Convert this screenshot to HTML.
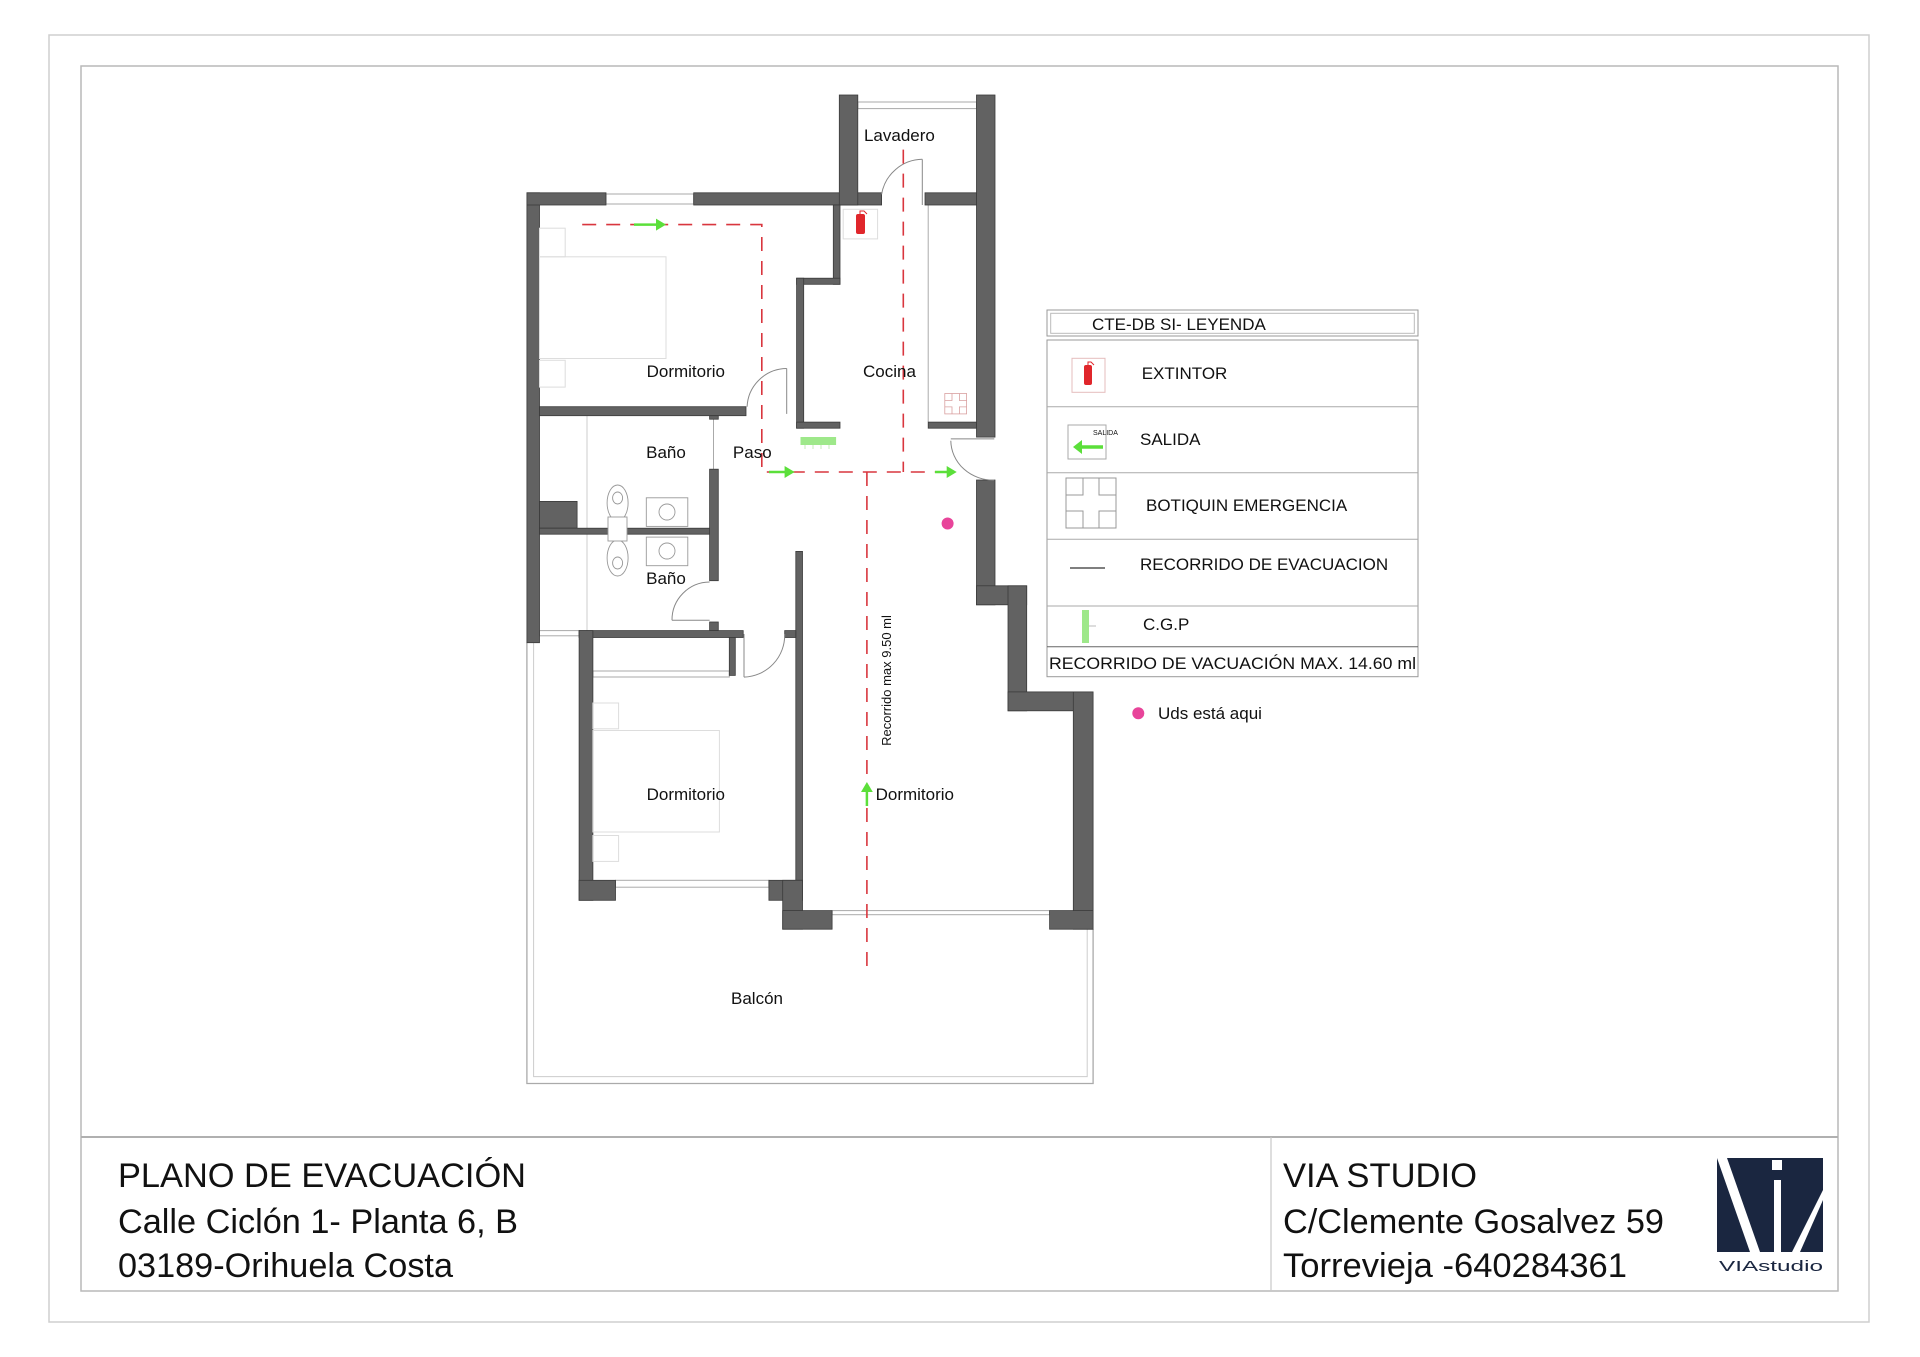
<!DOCTYPE html>
<html><head><meta charset="utf-8"><style>
html,body{margin:0;padding:0;background:#fff;}
svg{display:block;}
text{font-family:"Liberation Sans",Arial,sans-serif;fill:#111;}
</style></head><body>
<svg width="1920" height="1357" viewBox="0 0 1920 1357" xmlns="http://www.w3.org/2000/svg">
<rect width="1920" height="1357" fill="#fff"/>
<!-- frames -->
<rect x="49" y="35" width="1820" height="1287" fill="none" stroke="#cfcfcf" stroke-width="1.5"/>
<rect x="81" y="66" width="1757" height="1225" fill="none" stroke="#b9b9b9" stroke-width="1.5"/>
<line x1="81" y1="1137" x2="1838" y2="1137" stroke="#b0b0b0" stroke-width="2"/>
<line x1="1271" y1="1137" x2="1271" y2="1291" stroke="#c8c8c8" stroke-width="1.2"/>

<!-- balcony -->
<path d="M526.9 642.7 V1083.5 H1093.1 V929" fill="none" stroke="#aaa" stroke-width="1.3"/>
<path d="M533.6 642.7 V1076.6 H1087.2 V929" fill="none" stroke="#ccc" stroke-width="1"/>

<!-- windows / thin lines -->
<g stroke="#aaa" stroke-width="1" fill="none">
<rect x="606" y="194" width="87.7" height="10"/>
<rect x="857.8" y="102" width="118.7" height="6.6"/>
<rect x="539.5" y="630.6" width="39.6" height="5.2"/>
<rect x="592.9" y="671" width="136.4" height="6"/>
<rect x="615.5" y="880.3" width="153.4" height="6.9"/>
<rect x="832.1" y="910.6" width="217.5" height="4.1"/>
<line x1="928.2" y1="205" x2="928.2" y2="422"/>
<line x1="587" y1="415.7" x2="587" y2="642" stroke="#ccc"/>
<line x1="713.5" y1="419" x2="713.5" y2="469"/>
</g>

<!-- walls -->
<g fill="#626262" stroke="#3a3a3a" stroke-width="0.8">
<rect x="526.9" y="192.8" width="12.6" height="449.9"/>
<rect x="526.9" y="192.8" width="79.1" height="12.2"/>
<rect x="693.7" y="192.8" width="187.9" height="12.2"/>
<rect x="839.3" y="95" width="18.5" height="110"/>
<rect x="976.5" y="95" width="18.5" height="342.1"/>
<rect x="925" y="192.8" width="51.5" height="12.2"/>
<rect x="833.3" y="205" width="6.7" height="79.3"/>
<rect x="796.6" y="278.2" width="43.4" height="6.1"/>
<rect x="796.6" y="278.2" width="7.1" height="150"/>
<rect x="796.6" y="422.1" width="43.4" height="6.1"/>
<rect x="928.2" y="422.1" width="48.3" height="6.1"/>
<rect x="539.5" y="406.7" width="206.5" height="9"/>
<rect x="709.6" y="415.7" width="8.7" height="3.5"/>
<rect x="539.5" y="501.4" width="37.6" height="26.8"/>
<rect x="539.5" y="528.2" width="174" height="6"/>
<rect x="709.6" y="469.2" width="8.7" height="111.5"/>
<rect x="976.5" y="480" width="18.5" height="124.8"/>
<rect x="976.5" y="585.8" width="50.2" height="19"/>
<rect x="1008" y="585.8" width="18.7" height="125"/>
<rect x="1008" y="691.9" width="85.1" height="18.9"/>
<rect x="1073.3" y="691.9" width="19.8" height="237.3"/>
<rect x="1049.6" y="910.6" width="43.5" height="18.6"/>
<rect x="795.8" y="551.4" width="6.7" height="330.6"/>
<rect x="784.7" y="630.6" width="11.1" height="6.9"/>
<rect x="709.6" y="622" width="8.7" height="8.6"/>
<rect x="579.1" y="630.6" width="164.1" height="6.9"/>
<rect x="579.1" y="630.6" width="13.8" height="269.7"/>
<rect x="579.1" y="880.3" width="36.4" height="20"/>
<rect x="729.3" y="637.5" width="6" height="37.9"/>
<rect x="768.9" y="880.3" width="33.6" height="20"/>
<rect x="782.7" y="880.3" width="19.8" height="48.9"/>
<rect x="782.7" y="910.6" width="49.4" height="18.6"/>
</g>

<!-- doors -->
<g stroke="#888" stroke-width="1" fill="none">
<line x1="922.3" y1="159.3" x2="922.3" y2="205"/>
<path d="M881.6 194.3 A42 42 0 0 1 922.3 159.3"/>
<line x1="786.7" y1="368.5" x2="786.7" y2="413.9"/>
<path d="M747.1 406.7 A40 40 0 0 1 786.7 368.5"/>
<line x1="950.8" y1="438.9" x2="994.3" y2="438.9"/>
<path d="M950.8 440.7 A42 40 0 0 0 994.3 480"/>
<line x1="672" y1="620.3" x2="709.6" y2="620.3"/>
<path d="M672 620.3 A38 38 0 0 1 709.6 582"/>
<line x1="744" y1="634" x2="744" y2="677.1"/>
<path d="M744 677.1 A42 42 0 0 0 784.7 634"/>
</g>

<!-- furniture -->
<g stroke="#ddd" stroke-width="1" fill="none">
<rect x="539.5" y="228.2" width="25.7" height="28.6"/>
<rect x="539.5" y="256.8" width="126.5" height="101.7"/>
<rect x="539.5" y="360.3" width="25.7" height="26.8"/>
<rect x="592.9" y="703" width="25.7" height="25.8"/>
<rect x="592.9" y="730.5" width="126.5" height="101.5"/>
<rect x="592.9" y="835.5" width="25.7" height="25.9"/>
</g>
<g stroke="#999" stroke-width="0.9" fill="none">
<rect x="646.3" y="497.8" width="41.5" height="28.6"/>
<circle cx="667" cy="512" r="8"/>
<rect x="646.3" y="537.1" width="41.5" height="28.6"/>
<circle cx="667" cy="551" r="8"/>
<ellipse cx="617.6" cy="503" rx="10.5" ry="18" fill="#fff"/>
<ellipse cx="617.6" cy="558" rx="10.5" ry="18" fill="#fff"/>
<ellipse cx="617.6" cy="498" rx="5" ry="6"/>
<ellipse cx="617.6" cy="563" rx="5" ry="6"/>
<rect x="608" y="517" width="19" height="24" fill="#fff"/>
</g>

<!-- evac route -->
<g stroke="#d9363e" stroke-width="1.6" stroke-dasharray="14,10" fill="none">
<path d="M582.2 224.6 H761.8 V472 H954.7"/>
<line x1="903.3" y1="149.6" x2="903.3" y2="472"/>
<line x1="866.9" y1="472" x2="866.9" y2="971.6"/>
</g>
<g fill="#5bdf3a" stroke="#5bdf3a" stroke-width="2.5">
<line x1="634" y1="224.6" x2="658" y2="224.6"/><polygon points="666,224.6 656,218.6 656,230.6" stroke="none"/>
<line x1="769" y1="472" x2="786" y2="472"/><polygon points="794.6,472 784.6,466 784.6,478" stroke="none"/>
<line x1="935" y1="472" x2="948" y2="472"/><polygon points="956.7,472 946.7,466 946.7,478" stroke="none"/>
<line x1="866.9" y1="806" x2="866.9" y2="790"/><polygon points="866.9,782 861,792 872.8,792" stroke="none"/>
</g>
<rect x="800.5" y="437" width="35.6" height="8" fill="#9ee88a"/>
<g stroke="#b8e8a8" stroke-width="0.8"><line x1="805" y1="445" x2="805" y2="449"/><line x1="813" y1="445" x2="813" y2="449"/><line x1="821" y1="445" x2="821" y2="449"/><line x1="829" y1="445" x2="829" y2="449"/></g>

<!-- extinguisher in plan -->
<rect x="843.2" y="209.3" width="34.4" height="29.6" fill="#fff" stroke="#ddd"/>
<rect x="856" y="214" width="9" height="20" rx="2" fill="#e0262b"/>
<path d="M860 214 v-3 h4 l3 3" stroke="#e0262b" fill="none" stroke-width="1"/>
<!-- botiquin in plan -->
<g stroke="#d9a0a0" stroke-width="0.8" fill="none">
<rect x="944.8" y="393.5" width="21.8" height="20.4"/>
<path d="M952 393.5 v7 h-7.2 M959.4 393.5 v7 h7.2 M952 413.9 v-7 h-7.2 M959.4 413.9 v-7 h7.2"/>
</g>
<circle cx="947.6" cy="523.5" r="6" fill="#e8449a"/>

<!-- labels -->
<g font-size="17" text-anchor="middle">
<text x="899.4" y="141">Lavadero</text>
<text x="685.8" y="377">Dormitorio</text>
<text x="889.5" y="377">Cocina</text>
<text x="666" y="458">Baño</text>
<text x="752.3" y="458">Paso</text>
<text x="666" y="584">Baño</text>
<text x="685.8" y="800">Dormitorio</text>
<text x="757" y="1004">Balcón</text>
</g>
<text x="875.6" y="800" font-size="17">Dormitorio</text>
<text x="0" y="0" font-size="13" text-anchor="middle" transform="translate(891,680.5) rotate(-90)">Recorrido max 9.50 ml</text>

<!-- legend -->
<rect x="1047" y="310" width="371" height="26" fill="none" stroke="#999" stroke-width="1"/>
<rect x="1050.7" y="313.3" width="363.6" height="20" fill="none" stroke="#bbb" stroke-width="1"/>
<text x="1092" y="330" font-size="17">CTE-DB SI- LEYENDA</text>
<rect x="1047" y="340" width="371" height="336.7" fill="none" stroke="#999" stroke-width="1"/>
<g stroke="#aaa" stroke-width="1">
<line x1="1047" y1="406.7" x2="1418" y2="406.7"/>
<line x1="1047" y1="472.7" x2="1418" y2="472.7"/>
<line x1="1047" y1="539.3" x2="1418" y2="539.3"/>
<line x1="1047" y1="606" x2="1418" y2="606"/>
<line x1="1047" y1="646.7" x2="1418" y2="646.7" stroke="#666"/>
</g>
<g font-size="17">
<text x="1141.7" y="379">EXTINTOR</text>
<text x="1140" y="445">SALIDA</text>
<text x="1146" y="511">BOTIQUIN EMERGENCIA</text>
<text x="1140" y="570">RECORRIDO DE EVACUACION</text>
<text x="1143" y="630">C.G.P</text>
<text x="1049" y="669" textLength="367" lengthAdjust="spacingAndGlyphs">RECORRIDO DE VACUACIÓN MAX. 14.60 ml</text>
</g>
<rect x="1072" y="358.3" width="33" height="34" fill="#fff" stroke="#e4bcbc"/>
<rect x="1084" y="365" width="8" height="20" rx="2" fill="#e0262b"/>
<path d="M1088 365 v-3 h3 l3 3" stroke="#e0262b" fill="none"/>
<rect x="1068" y="425" width="38" height="34" fill="#fff" stroke="#aaa"/>
<text x="1093" y="435" font-size="7">SALIDA</text>
<line x1="1080" y1="447" x2="1103" y2="447" stroke="#5bdf3a" stroke-width="3.5"/>
<polygon points="1073,447 1082,440 1082,454" fill="#5bdf3a"/>
<g stroke="#999" stroke-width="1" fill="none">
<rect x="1066" y="478" width="50" height="50"/>
<path d="M1083 478 v17 h-17 M1099 478 v17 h17 M1083 528 v-17 h-17 M1099 528 v-17 h17"/>
</g>
<line x1="1070" y1="568" x2="1105" y2="568" stroke="#333" stroke-width="1.2"/>
<rect x="1082" y="610" width="7" height="33" fill="#9ee88a"/>
<line x1="1089" y1="626" x2="1096" y2="626" stroke="#bbb"/>
<circle cx="1138.3" cy="713.3" r="6" fill="#e8449a"/>
<text x="1158" y="719" font-size="17">Uds está aqui</text>

<!-- title block -->
<g font-size="34">
<text x="118" y="1187" textLength="408" lengthAdjust="spacingAndGlyphs">PLANO DE EVACUACIÓN</text>
<text x="118" y="1233" textLength="400" lengthAdjust="spacingAndGlyphs">Calle Ciclón 1- Planta 6, B</text>
<text x="118" y="1277" textLength="335" lengthAdjust="spacingAndGlyphs">03189-Orihuela Costa</text>
<text x="1283" y="1187" textLength="194" lengthAdjust="spacingAndGlyphs">VIA STUDIO</text>
<text x="1283" y="1233" textLength="381" lengthAdjust="spacingAndGlyphs">C/Clemente Gosalvez 59</text>
<text x="1283" y="1277" textLength="344" lengthAdjust="spacingAndGlyphs">Torrevieja -640284361</text>
</g>
<!-- logo -->
<rect x="1717" y="1158" width="106" height="94" fill="#1a2640"/>
<polygon points="1717,1158 1727,1158 1760,1252 1750,1252" fill="#fff"/>
<polygon points="1823,1190 1823,1200 1800,1252 1792,1252" fill="#fff"/>
<rect x="1774" y="1180" width="7" height="72" fill="#fff"/>
<rect x="1772" y="1160" width="10" height="10" fill="#fff"/>
<text x="1719" y="1271" font-size="15" style="fill:#1a2640" textLength="104" lengthAdjust="spacingAndGlyphs">VIAstudio</text>
</svg>
</body></html>
